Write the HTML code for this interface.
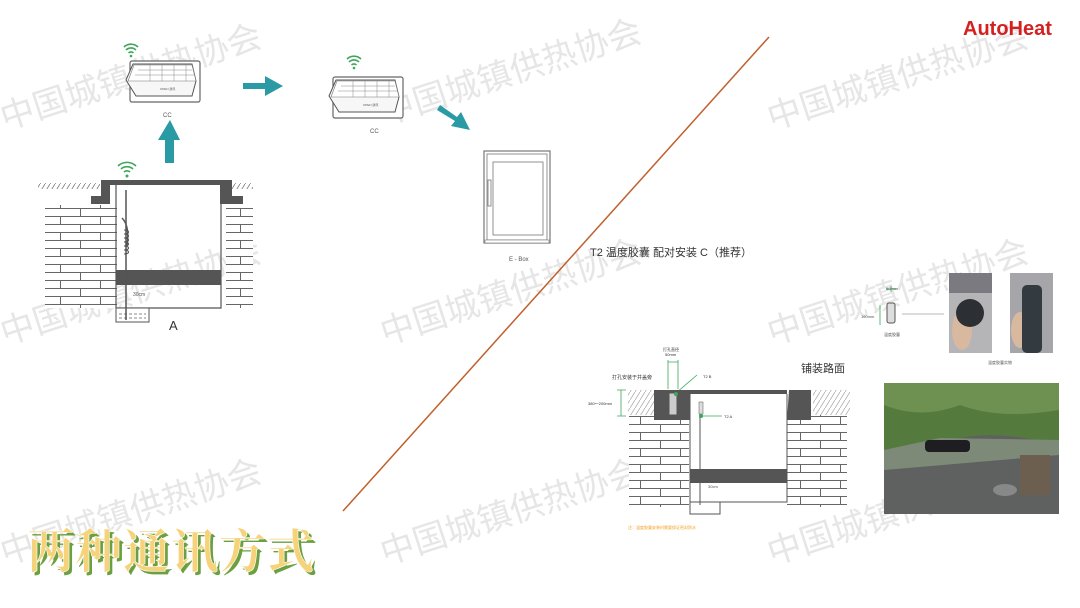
<!DOCTYPE html>
<html><head><meta charset="utf-8"><style>
body{margin:0;width:1080px;height:608px;background:#fff;overflow:hidden;position:relative;font-family:"Liberation Sans","Noto Sans CJK SC",sans-serif}
svg{position:absolute;left:0;top:0}
</style></head><body>
<svg width="1080" height="608" viewBox="0 0 1080 608" font-family="Liberation Sans, Noto Sans CJK SC, sans-serif">
<defs>
<pattern id="brick" width="40" height="16" patternUnits="userSpaceOnUse">
<rect width="40" height="16" fill="#fff"/>
<path d="M0 0.5H40M0 8.5H40M0.5 0V8M20.5 8V16" stroke="#666" stroke-width="1" fill="none"/>
</pattern>
<pattern id="hatch" width="5" height="8" patternUnits="userSpaceOnUse">
<path d="M0 8L5 0" stroke="#777" stroke-width="0.8"/>
</pattern>
</defs>

<!-- watermarks -->
<g fill="#e6e6e6" font-size="34" font-family="Noto Sans CJK SC, sans-serif">
<text transform="translate(5,130) rotate(-18)">中国城镇供热协会</text>
<text transform="translate(385,125) rotate(-18)">中国城镇供热协会</text>
<text transform="translate(772,130) rotate(-18)">中国城镇供热协会</text>
<text transform="translate(5,345) rotate(-18)">中国城镇供热协会</text>
<text transform="translate(385,345) rotate(-18)">中国城镇供热协会</text>
<text transform="translate(772,345) rotate(-18)">中国城镇供热协会</text>
<text transform="translate(5,565) rotate(-18)">中国城镇供热协会</text>
<text transform="translate(385,565) rotate(-18)">中国城镇供热协会</text>
<text transform="translate(772,565) rotate(-18)">中国城镇供热协会</text>
</g>

<!-- diagonal -->
<line x1="343" y1="511" x2="769" y2="37" stroke="#c0602a" stroke-width="1.5"/>

<!-- logo -->
<text x="963" y="35" font-size="20" font-weight="bold" fill="#d42020">AutoHeat</text>

<!-- CC1 -->
<g transform="translate(130,61)">
<rect x="0" y="0" width="70" height="41" rx="2" fill="#fff" stroke="#666" stroke-width="1.2"/>
<path d="M3 3H62L66 20L62 35H6L-4 19Z" fill="#f7f7f7" stroke="#555"/>
<path d="M4 4H62L66 20H-2Z" fill="#fff" stroke="#777" stroke-width="0.6"/>
<path d="M8 9H62M5 14H64M20 4V20M32 4V20M44 4V20M56 4V20" stroke="#888" stroke-width="0.5"/>
<text x="30" y="29" font-size="3" fill="#555">OPEN 通讯</text>
</g>
<text x="163" y="117" font-size="6" fill="#555">CC</text>
<!-- CC2 -->
<g transform="translate(333,77)">
<rect x="0" y="0" width="70" height="41" rx="2" fill="#fff" stroke="#666" stroke-width="1.2"/>
<path d="M3 3H62L66 20L62 35H6L-4 19Z" fill="#f7f7f7" stroke="#555"/>
<path d="M4 4H62L66 20H-2Z" fill="#fff" stroke="#777" stroke-width="0.6"/>
<path d="M8 9H62M5 14H64M20 4V20M32 4V20M44 4V20M56 4V20" stroke="#888" stroke-width="0.5"/>
<text x="30" y="29" font-size="3" fill="#555">OPEN 通讯</text>
</g>
<text x="370" y="133" font-size="6" fill="#555">CC</text>

<!-- wifi icons -->
<g fill="none" stroke="#3ea65a" stroke-width="1.6">
<g transform="translate(131,51)"><path d="M-7-4A10 10 0 0 1 7-4M-5-1A7 7 0 0 1 5-1M-2.5 2A3.5 3.5 0 0 1 2.5 2"/><circle cx="0" cy="5" r="1.3" fill="#3ea65a" stroke="none"/></g>
<g transform="translate(354,63)"><path d="M-7-4A10 10 0 0 1 7-4M-5-1A7 7 0 0 1 5-1M-2.5 2A3.5 3.5 0 0 1 2.5 2"/><circle cx="0" cy="5" r="1.3" fill="#3ea65a" stroke="none"/></g>
<g transform="translate(127,170)"><path d="M-9-4A13 13 0 0 1 9-4M-6-1A9 9 0 0 1 6-1M-3 2A4.5 4.5 0 0 1 3 2"/><circle cx="0" cy="6" r="1.5" fill="#3ea65a" stroke="none"/></g>
</g>

<!-- teal arrows -->
<g fill="#2a9aa5">
<path d="M165 163V140H158L170 120L180 140H174V163Z"/>
<path d="M243 83H265V76L283 86L265 96V89H243Z"/>
<path d="M440 105L457 117L461 112L470 130L451 126L455 121L437 110Z"/>
</g>

<!-- E-Box -->
<g stroke="#777" fill="#fff">
<rect x="484" y="151" width="66" height="92" stroke-width="1.2"/>
<rect x="487" y="154" width="60" height="86" stroke-width="0.8"/>
<rect x="493" y="162" width="50" height="73" stroke-width="0.8"/>
<rect x="485" y="240" width="64" height="3" stroke-width="0.6"/>
<rect x="488" y="180" width="3" height="26" stroke-width="0.8"/>
</g>
<text x="509" y="261" font-size="6" fill="#555">E - Box</text>

<!-- Left well A -->
<g>
<path d="M38 186H100M225 186H253" stroke="url(#hatch)" stroke-width="6"/>
<rect x="45" y="205" width="47" height="103" fill="url(#brick)"/>
<rect x="92" y="205" width="25" height="103" fill="url(#brick)"/>
<rect x="226" y="205" width="27" height="103" fill="url(#brick)"/>
<path d="M101 180H232V196H243V204H220V185H110V204H91V196H101Z" fill="#555"/>
<rect x="116" y="270" width="105" height="15" fill="#555"/>
<path d="M116 185V308H221V185" fill="none" stroke="#555" stroke-width="1.2"/>
<rect x="116" y="308" width="33" height="14" fill="#fff" stroke="#555"/>
<path d="M119 314H146M119 318H146" stroke="#888" stroke-dasharray="3 2"/>
<path d="M126 190V320" stroke="#555" stroke-width="1.5"/>
<path d="M122 218Q130 226 127 246" stroke="#555" fill="none" stroke-width="1.5"/>
<path d="M124 230c6 0 6 4 0 4c6 0 6 4 0 4c6 0 6 4 0 4c6 0 6 4 0 4c6 0 6 4 0 4c6 0 6 4 0 4" stroke="#555" fill="none"/>
<text x="133" y="296" font-size="5" fill="#555">30cm</text>
</g>
<text x="169" y="330" font-size="13" fill="#333">A</text>

<!-- right text -->
<text x="590" y="256" font-size="11" fill="#333">T2 温度胶囊 配对安装 C（推荐）</text>

<!-- capsule small -->
<g>
<path d="M886 289H896M891 286V292" stroke="#3ea65a" stroke-width="0.8"/>
<rect x="887" y="303" width="8" height="20" rx="2" fill="#ddd" stroke="#555"/>
<text x="886" y="290" font-size="4" fill="#555">50 mm</text>
<text x="861" y="318" font-size="4" fill="#555">160mm</text>
<path d="M880 305V325" stroke="#3ea65a" stroke-width="0.8"/>
<text x="884" y="336" font-size="4" fill="#555">温度胶囊</text>
<line x1="902" y1="314" x2="944" y2="314" stroke="#777" stroke-width="0.6"/>
<rect x="949" y="273" width="43" height="80" fill="#b5b5b8"/>
<rect x="949" y="273" width="43" height="20" fill="#7a7a80"/>
<ellipse cx="962" cy="330" rx="10" ry="20" fill="#d9b8a0"/>
<circle cx="970" cy="313" r="14" fill="#2c3035"/>
<rect x="1010" y="273" width="43" height="80" fill="#a5a5aa"/>
<ellipse cx="1020" cy="330" rx="9" ry="18" fill="#d9b8a0"/>
<rect x="1022" y="285" width="20" height="68" rx="5" fill="#333a40"/>
<text x="988" y="364" font-size="4" fill="#555">温度胶囊实物</text>
</g>

<!-- photo -->
<rect x="884" y="383" width="175" height="131" fill="#5f6060"/>
<path d="M884 383H1059V445Q1000 430 960 438Q920 442 884 450Z" fill="#557a3e"/>
<path d="M884 383H1059V410Q1000 420 960 405Q920 420 884 405Z" fill="#6e9152"/>
<path d="M884 450L940 438L1059 440V455L884 470Z" fill="#7d8a78"/>
<rect x="925" y="440" width="45" height="12" rx="4" fill="#1e1e22"/>
<rect x="1020" y="455" width="30" height="40" fill="#6d5f50"/>
<ellipse cx="1005" cy="490" rx="12" ry="6" fill="#888"/>

<!-- right well -->
<g>
<text x="801" y="372" font-size="11" fill="#333">铺装路面</text>
<text x="612" y="379" font-size="5" fill="#333">打孔安装于井盖旁</text>
<text x="663" y="351" font-size="4" fill="#333">打孔直径</text>
<text x="665" y="356" font-size="4" fill="#333">50mm</text>
<path d="M668 360V389M678 360V389M668 362H678" stroke="#3ea65a" stroke-width="0.8"/>
<path d="M676 393L697 375" stroke="#3ea65a" stroke-width="0.8"/>
<text x="703" y="378" font-size="4" fill="#333">T2 B</text>
<text x="588" y="405" font-size="4" fill="#333">380～200mm</text>
<path d="M621 390V416M617 390H626M617 416H626" stroke="#3ea65a" stroke-width="0.8"/>
<rect x="628" y="390" width="46" height="25" fill="url(#hatch)" opacity="0.6"/>
<rect x="813" y="390" width="37" height="25" fill="url(#hatch)" opacity="0.6"/>
<rect x="629" y="415" width="60" height="92" fill="url(#brick)"/>
<rect x="787" y="415" width="60" height="92" fill="url(#brick)"/>
<path d="M654 390H690V420H654Z M789 390H811V420H787Z" fill="#555"/>
<rect x="690" y="390" width="97" height="4" fill="#555"/>
<rect x="690" y="469" width="97" height="14" fill="#555"/>
<path d="M690 394V502H787V394" fill="none" stroke="#555"/>
<rect x="690" y="502" width="30" height="12" fill="#fff" stroke="#555"/>
<rect x="669" y="393" width="8" height="22" fill="#ccc" stroke="#555"/>
<circle cx="676" cy="394" r="2" fill="#3ea65a"/>
<path d="M700 405V505" stroke="#555"/>
<rect x="699" y="402" width="4" height="12" fill="#ddd" stroke="#555" stroke-width="0.5"/>
<circle cx="701" cy="416" r="2" fill="#3ea65a"/>
<path d="M703 416H722" stroke="#3ea65a" stroke-width="0.8"/>
<text x="724" y="418" font-size="4" fill="#333">T2 A</text>
<text x="708" y="488" font-size="4" fill="#555">30cm</text>
<text x="628" y="529" font-size="4" fill="#f0a020">注：温度胶囊安装时需要保证密封防水</text>
</g>

<!-- title -->
<g font-family="Noto Serif CJK SC, serif" font-size="47" font-weight="bold" letter-spacing="1">
<text x="30" y="571" fill="#6aa040">两种通讯方式</text>
<text x="27" y="568" fill="#f6d27a" stroke="#fff" stroke-width="0.6">两种通讯方式</text>
</g>
</svg>
</body></html>
